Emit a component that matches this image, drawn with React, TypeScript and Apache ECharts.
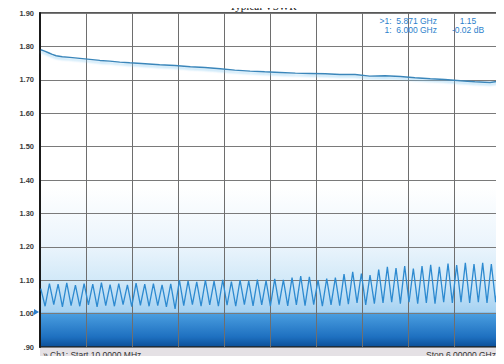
import React, { useEffect, useRef } from "react";
import * as echarts from "echarts";

const titleText = "Typical VSWR";
const yTicks = [0.9, 1.0, 1.1, 1.2, 1.3, 1.4, 1.5, 1.6, 1.7, 1.8, 1.9];
const sweepStartMHz = 10;
const sweepStopMHz = 6000;
const statusLeft = "» Ch1: Start 10.0000 MHz";
const statusRight = "Stop 6.00000 GHz";
const markerLine1 = [">1:  5.871 GHz", "1.15"];
const markerLine2 = ["1:  6.000 GHz", "-0.02 dB"];

// upper trace: [MHz, VSWR]
const upperTrace: [number, number][] = [
  [10, 1.79], [60, 1.786], [110, 1.781], [160, 1.776], [210, 1.772], [290, 1.769],
  [390, 1.767], [520, 1.764], [650, 1.761], [780, 1.758], [910, 1.756], [1040, 1.753],
  [1170, 1.751], [1370, 1.748], [1560, 1.745], [1760, 1.743], [1960, 1.739], [2150, 1.737],
  [2350, 1.733], [2540, 1.729], [2740, 1.726], [2930, 1.724], [3130, 1.722], [3330, 1.72],
  [3520, 1.719], [3720, 1.718], [3910, 1.716], [4110, 1.716], [4300, 1.711], [4500, 1.712],
  [4700, 1.71], [4890, 1.706], [5090, 1.703], [5280, 1.701], [5480, 1.697], [5670, 1.694],
  [5870, 1.692], [5960, 1.695], [6000, 1.705],
];

// lower trace: evenly swept points from start to stop
const lowerTrace = [
  1.075, 1.022, 1.09, 1.027, 1.088, 1.02, 1.092, 1.024, 1.085, 1.022,
  1.09, 1.026, 1.088, 1.02, 1.093, 1.024, 1.087, 1.022, 1.09, 1.027,
  1.086, 1.021, 1.091, 1.025, 1.088, 1.022, 1.09, 1.024, 1.086, 1.02,
  1.089, 1.014, 1.1, 1.024, 1.098, 1.027, 1.095, 1.022, 1.1, 1.026,
  1.097, 1.022, 1.101, 1.025, 1.096, 1.022, 1.1, 1.027, 1.098, 1.023,
  1.102, 1.026, 1.099, 1.022, 1.104, 1.027, 1.101, 1.023, 1.108, 1.026,
  1.112, 1.024, 1.11, 1.027, 1.1, 1.022, 1.105, 1.026, 1.108, 1.024,
  1.118, 1.028, 1.125, 1.032, 1.12, 1.026, 1.115, 1.03, 1.132, 1.032,
  1.14, 1.034, 1.136, 1.03, 1.142, 1.034, 1.135, 1.03, 1.142, 1.032,
  1.146, 1.03, 1.14, 1.034, 1.15, 1.032, 1.145, 1.034, 1.152, 1.032,
  1.148, 1.034, 1.152, 1.032, 1.148, 1.034, 1.14,
];

export default function App() {
  const ref = useRef<HTMLDivElement>(null);
  useEffect(() => {
    if (!ref.current) return;
    const chart = echarts.init(ref.current, null, { renderer: "svg" });
    const step = (sweepStopMHz - sweepStartMHz) / (lowerTrace.length - 1);
    const lowerData = lowerTrace.map((v, i) => [sweepStartMHz + i * step, v]);
    const font = "Liberation Sans, Arial, sans-serif";
    const markerStyle = { fontSize: 8.5, fontFamily: font, fill: "#2c7fcc", verticalAlign: "middle" };
    chart.setOption({
      animation: false,
      backgroundColor: "#ffffff",
      grid: {
        left: 40,
        right: 4,
        top: 13,
        bottom: 17,
        show: true,
        borderColor: "#222",
        borderWidth: 1.5,
        backgroundColor: new echarts.graphic.LinearGradient(0, 0, 0, 1, [
          { offset: 0, color: "#ffffff" },
          { offset: 0.52, color: "#ffffff" },
          { offset: 0.7, color: "#eaf4fc" },
          { offset: 0.8, color: "#d2e9f8" },
          { offset: 0.895, color: "#a6d2f2" },
          { offset: 0.9, color: "#4a9ee0" },
          { offset: 0.97, color: "#1e70c0" },
          { offset: 1, color: "#0c4f98" },
        ]),
      },
      xAxis: {
        type: "value",
        min: 0,
        max: 6000,
        interval: 600,
        axisLabel: { show: false },
        axisTick: { show: false },
        axisLine: { show: false },
        splitLine: { show: true, lineStyle: { color: "#6e6e6e", width: 1 } },
      },
      yAxis: {
        type: "value",
        min: 0.9,
        max: 1.9,
        interval: 0.1,
        axisLine: { show: true, lineStyle: { color: "#1a1a1a", width: 2 } },
        axisTick: { show: false },
        axisLabel: {
          margin: 6,
          fontSize: 7.5,
          fontWeight: "bold",
          color: "#3a3a3a",
          fontFamily: font,
          formatter: (v: number) => {
            const t = yTicks.find((k) => Math.abs(k - v) < 1e-6);
            if (t === undefined) return "";
            return t < 1 ? "." + Math.round(t * 100) : t.toFixed(2);
          },
        },
        splitLine: { show: true, lineStyle: { color: "#7a7a7a", width: 1 } },
      },
      series: [
        {
          type: "line",
          data: lowerData,
          symbol: "none",
          lineStyle: { color: "#2d8ad0", width: 1.3 },
          z: 3,
        },
        {
          type: "line",
          data: upperTrace,
          symbol: "none",
          lineStyle: {
            color: "#3a86ba",
            width: 1.4,
            shadowColor: "rgba(120,195,240,0.7)",
            shadowBlur: 2,
            shadowOffsetY: 2,
          },
          z: 4,
        },
      ],
      graphic: [
        {
          type: "text",
          x: 263,
          y: 0,
          z: 20,
          style: {
            text: titleText,
            fontSize: 11,
            fontFamily: "Liberation Serif, Times New Roman, serif",
            fill: "#111",
            align: "center",
            verticalAlign: "top",
          },
        },
        {
          type: "rect",
          shape: { x: 40, y: 348, width: 460, height: 13 },
          style: { fill: "#e5e1e5" },
          z: 10,
        },
        {
          type: "text",
          x: 43,
          y: 354.5,
          style: {
            text: statusLeft,
            fontSize: 8.5,
            fontFamily: font,
            fill: "#333",
            verticalAlign: "middle",
          },
          z: 11,
        },
        {
          type: "text",
          x: 496,
          y: 354.5,
          style: {
            text: statusRight,
            fontSize: 8.5,
            fontFamily: font,
            fill: "#333",
            align: "right",
            verticalAlign: "middle",
          },
          z: 11,
        },
        {
          type: "text",
          x: 437,
          y: 21,
          style: { ...markerStyle, text: markerLine1[0], align: "right" },
          z: 11,
        },
        {
          type: "text",
          x: 468,
          y: 21,
          style: { ...markerStyle, text: markerLine1[1], align: "center" },
          z: 11,
        },
        {
          type: "text",
          x: 437,
          y: 30,
          style: { ...markerStyle, text: markerLine2[0], align: "right" },
          z: 11,
        },
        {
          type: "text",
          x: 468,
          y: 30,
          style: { ...markerStyle, text: markerLine2[1], align: "center" },
          z: 11,
        },
        {
          type: "polygon",
          shape: { points: [[34, 309], [39, 312], [34, 315]] },
          style: { fill: "#2c7fcc" },
          z: 11,
        },
        {
          type: "polygon",
          shape: { points: [[503, 68], [499, 73], [503, 78]] },
          style: { fill: "#2c6fa8" },
          z: 11,
        },
      ],
    });
    return () => chart.dispose();
  }, []);
  return <div ref={ref} style={{ width: 504, height: 364, margin: -8 }} />;
}
